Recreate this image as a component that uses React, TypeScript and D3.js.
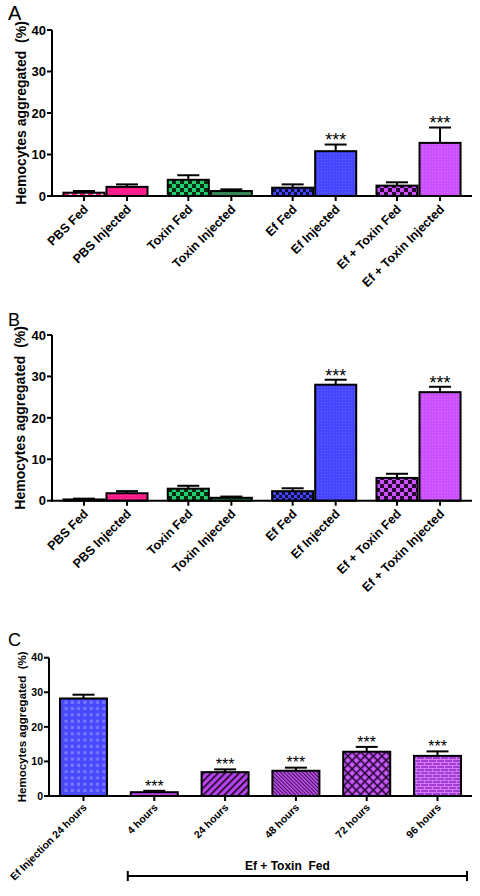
import React from "react";
import * as d3 from "d3";

const abLabels = ["PBS Fed", "PBS Injected", "Toxin Fed", "Toxin Injected", "Ef Fed", "Ef Injected", "Ef + Toxin Fed", "Ef + Toxin Injected"];
const abGroups = ["PBS", "Toxin", "Ef", "Ef + Toxin"];
const aValues = [0.8, 2.2, 3.9, 1.2, 2.0, 10.8, 2.5, 12.8];
const aErrors = [0.4, 0.6, 1.1, 0.4, 0.8, 1.6, 0.8, 3.7];
const aSig = ["", "", "", "", "", "***", "", "***"];
const bValues = [0.3, 1.8, 2.9, 0.7, 2.3, 28.0, 5.5, 26.2];
const bErrors = [0.2, 0.5, 0.7, 0.3, 0.7, 1.2, 1.0, 1.3];
const bSig = ["", "", "", "", "", "***", "", "***"];
const abFills = ["url(#pPink)", "url(#pPinkSolid)", "url(#pGreenCheck)", "url(#pGreenDark)", "url(#pBlueCheck)", "url(#pBlueFine)", "url(#pPurpleCheck)", "url(#pPurpleFine)"];

const cLabels = ["Ef Injection 24 hours", "4 hours", "24 hours", "48 hours", "72 hours", "96 hours"];
const cValues = [28.2, 1.1, 6.9, 7.3, 12.8, 11.6];
const cErrors = [1.1, 0.4, 0.8, 0.9, 1.4, 1.3];
const cSig = ["", "***", "***", "***", "***", "***"];
const cFills = ["url(#pBlueDots)", "url(#pPurplePlain)", "url(#pPurpleStripe)", "url(#pPurpleHatch)", "url(#pPurpleLattice)", "url(#pPurpleBrick)"];
const bracketLabel = "Ef + Toxin  Fed";

const yTicks = [0, 10, 20, 30, 40];
const yTitle = "Hemocytes aggregated  (%)";

const FONT = "'Liberation Sans', Arial, Helvetica, sans-serif";

function Defs() {
  const pink = "#ff1a8c";
  const green = "#1fd070";
  const blue = "#4646ff";
  const purple = "#cc50ff";
  const cpurple = "#b744ea";
  return (
    <defs>
      <pattern id="pPink" width="8" height="4" patternUnits="userSpaceOnUse">
        <rect width="8" height="4" fill="#ffd0e6" />
        <rect x="0" y="1" width="5" height="2" fill={pink} />
      </pattern>
      <pattern id="pPinkSolid" width="3" height="3" patternUnits="userSpaceOnUse">
        <rect width="3" height="3" fill={pink} />
        <rect width="1" height="1" fill="#ff3d9e" />
      </pattern>
      <pattern id="pGreenCheck" width="8" height="8" patternUnits="userSpaceOnUse">
        <rect width="8" height="8" fill={green} />
        <rect width="4" height="4" fill="#0a2a14" />
        <rect x="4" y="4" width="4" height="4" fill="#0a2a14" />
      </pattern>
      <pattern id="pGreenDark" width="3" height="3" patternUnits="userSpaceOnUse">
        <rect width="3" height="3" fill="#2f8a55" />
      </pattern>
      <pattern id="pBlueCheck" width="6" height="6" patternUnits="userSpaceOnUse">
        <rect width="6" height="6" fill={blue} />
        <rect width="3" height="3" fill="#101040" />
        <rect x="3" y="3" width="3" height="3" fill="#101040" />
      </pattern>
      <pattern id="pBlueFine" width="3" height="3" patternUnits="userSpaceOnUse">
        <rect width="3" height="3" fill={blue} />
        <rect width="1" height="1" fill="#6060ff" />
      </pattern>
      <pattern id="pPurpleCheck" width="8" height="8" patternUnits="userSpaceOnUse">
        <rect width="8" height="8" fill={purple} />
        <rect width="4" height="4" fill="#2a0a33" />
        <rect x="4" y="4" width="4" height="4" fill="#2a0a33" />
      </pattern>
      <pattern id="pPurpleFine" width="3" height="3" patternUnits="userSpaceOnUse">
        <rect width="3" height="3" fill={purple} />
        <rect width="1" height="1" fill="#d870ff" />
      </pattern>
      <pattern id="pBlueDots" width="6.3" height="6.3" patternUnits="userSpaceOnUse">
        <rect width="6.3" height="6.3" fill="#4848ff" />
        <rect x="1.5" y="1.5" width="3" height="3" fill="#7a7aff" />
      </pattern>
      <pattern id="pPurplePlain" width="4" height="4" patternUnits="userSpaceOnUse">
        <rect width="4" height="4" fill={cpurple} />
      </pattern>
      <pattern id="pPurpleStripe" width="5" height="5" patternUnits="userSpaceOnUse" patternTransform="rotate(45)">
        <rect width="5" height="5" fill={cpurple} />
        <rect width="1.6" height="5" fill="#1a0622" />
      </pattern>
      <pattern id="pPurpleHatch" width="2.6" height="2.6" patternUnits="userSpaceOnUse" patternTransform="rotate(-45)">
        <rect width="2.6" height="2.6" fill="#c050f0" />
        <rect width="1" height="2.6" fill="#3a0f4a" />
      </pattern>
      <pattern id="pPurpleLattice" width="6" height="6" patternUnits="userSpaceOnUse" patternTransform="rotate(45)">
        <rect width="6" height="6" fill="#1a0622" />
        <rect x="1.3" y="1.3" width="4.7" height="4.7" fill={cpurple} />
        <rect x="2.6" y="2.6" width="2" height="2" fill="#d27cf5" />
      </pattern>
      <pattern id="pPurpleBrick" width="8" height="6" patternUnits="userSpaceOnUse">
        <rect width="8" height="6" fill="#a23cd2" />
        <rect y="0" width="8" height="1" fill="#d27cf5" />
        <rect y="3" width="8" height="1" fill="#d27cf5" />
        <rect x="0" y="0" width="1" height="3" fill="#d27cf5" />
        <rect x="4" y="3" width="1" height="3" fill="#d27cf5" />
      </pattern>
    </defs>
  );
}

type PanelProps = {
  letter: string;
  letterSize: number;
  letterY: number;
  x0: number;
  x1: number;
  yTop: number;
  yBottom: number;
  values: number[];
  errors: number[];
  sig: string[];
  fills: string[];
  centers: number[];
  barWidth: number;
  labels: string[];
  labelSize: number;
  labelWeight: string;
  labelDx: number;
  labelDy: number;
  tickSize: number;
  titleSize: number;
  titleX: number;
  starSize: number;
};

function Panel(p: PanelProps) {
  const y = d3.scaleLinear().domain([0, 40]).range([p.yBottom, p.yTop]);
  const y0 = y(0);
  return (
    <g fontFamily={FONT}>
      <text x={8} y={p.letterY} fontSize={p.letterSize}>{p.letter}</text>
      <text
        transform={`translate(${p.titleX},${(p.yTop + p.yBottom) / 2}) rotate(-90)`}
        textAnchor="middle"
        fontSize={p.titleSize}
        fontWeight="bold"
        style={{ whiteSpace: "pre" }}
      >
        {yTitle}
      </text>
      {p.values.map((v, i) => {
        const cx = p.centers[i];
        const top = y(v);
        const et = y(v + p.errors[i]);
        return (
          <g key={i}>
            <line x1={cx} x2={cx} y1={top} y2={et} stroke="#000" strokeWidth={2} />
            <line x1={cx - 11} x2={cx + 11} y1={et} y2={et} stroke="#000" strokeWidth={2} />
            <rect x={cx - p.barWidth / 2} y={top} width={p.barWidth} height={y0 - top} fill={p.fills[i]} stroke="#000" strokeWidth={2} />
            {p.sig[i] ? (
              <text x={cx} y={et - 8.5 + 0.58 * p.starSize} textAnchor="middle" fontSize={p.starSize}>{p.sig[i]}</text>
            ) : null}
          </g>
        );
      })}
      <line x1={p.x0} x2={p.x0} y1={p.yTop} y2={y0 + 1} stroke="#000" strokeWidth={2} />
      <line x1={p.x0 - 1} x2={p.x1} y1={y0} y2={y0} stroke="#000" strokeWidth={2} />
      {yTicks.map((t) => (
        <g key={t}>
          <line x1={p.x0 - 5} x2={p.x0} y1={y(t)} y2={y(t)} stroke="#000" strokeWidth={2} />
          <text x={p.x0 - 6} y={y(t)} dy="0.36em" textAnchor="end" fontSize={p.tickSize} fontWeight="bold">{t}</text>
        </g>
      ))}
      {p.labels.map((l, i) => (
        <g key={l}>
          <line x1={p.centers[i]} x2={p.centers[i]} y1={y0} y2={y0 + 5} stroke="#000" strokeWidth={2} />
          <text
            transform={`translate(${p.centers[i] + p.labelDx},${y0 + p.labelDy}) rotate(-45)`}
            textAnchor="end"
            fontSize={p.labelSize}
            fontWeight={p.labelWeight}
          >
            {l}
          </text>
        </g>
      ))}
    </g>
  );
}

export default function App() {
  const abOuter = d3.scaleBand<string>().domain(abGroups).range([52, 472]).paddingInner(0.175).paddingOuter(0.1);
  const abInner = d3.scaleBand<number>().domain([0, 1]).range([0, abOuter.bandwidth()]);
  const abCenters = abLabels.map((_, i) => (abOuter(abGroups[Math.floor(i / 2)]) as number) + (abInner(i % 2) as number) + abInner.bandwidth() / 2);
  const abWidth = abInner.bandwidth() - 2;

  const cx = d3.scaleBand<string>().domain(cLabels).range([49, 472]).paddingInner(0.336).paddingOuter(0.155);
  const cCenters = cLabels.map((l) => (cx(l) as number) + cx.bandwidth() / 2);
  const bracketStart = (cx(cLabels[1]) as number) - 3;
  const bracketEnd = (cx(cLabels[5]) as number) + cx.bandwidth() + 6;

  return (
    <svg width={480} height={896} style={{ position: "absolute", left: 0, top: 0, background: "#fff" }}>
      <Defs />
      <rect width={480} height={896} fill="#fff" />
      <Panel
        letter="A" letterSize={20} letterY={20}
        x0={52} x1={472} yTop={30} yBottom={196}
        values={aValues} errors={aErrors} sig={aSig} fills={abFills}
        centers={abCenters} barWidth={abWidth} labels={abLabels}
        labelSize={12.5} labelWeight="bold" labelDx={5} labelDy={14}
        tickSize={13} titleSize={14} titleX={26} starSize={18}
      />
      <Panel
        letter="B" letterSize={18} letterY={326}
        x0={52} x1={472} yTop={335} yBottom={500.7}
        values={bValues} errors={bErrors} sig={bSig} fills={abFills}
        centers={abCenters} barWidth={abWidth} labels={abLabels}
        labelSize={12.5} labelWeight="bold" labelDx={5} labelDy={14}
        tickSize={13} titleSize={14} titleX={25} starSize={18}
      />
      <Panel
        letter="C" letterSize={18} letterY={646}
        x0={49} x1={472} yTop={657.7} yBottom={796}
        values={cValues} errors={cErrors} sig={cSig} fills={cFills}
        centers={cCenters} barWidth={cx.bandwidth()} labels={cLabels}
        labelSize={10.5} labelWeight="bold" labelDx={4} labelDy={12}
        tickSize={10.5} titleSize={11.5} titleX={26} starSize={16}
      />
      <g fontFamily={FONT}>
        <line x1={bracketStart} x2={bracketEnd} y1={876} y2={876} stroke="#000" strokeWidth={2} />
        <line x1={bracketStart} x2={bracketStart} y1={871} y2={881} stroke="#000" strokeWidth={2} />
        <line x1={bracketEnd} x2={bracketEnd} y1={871} y2={881} stroke="#000" strokeWidth={2} />
        <text x={245} y={870} fontSize={12} fontWeight="bold" style={{ whiteSpace: "pre" }}>{bracketLabel}</text>
      </g>
    </svg>
  );
}
